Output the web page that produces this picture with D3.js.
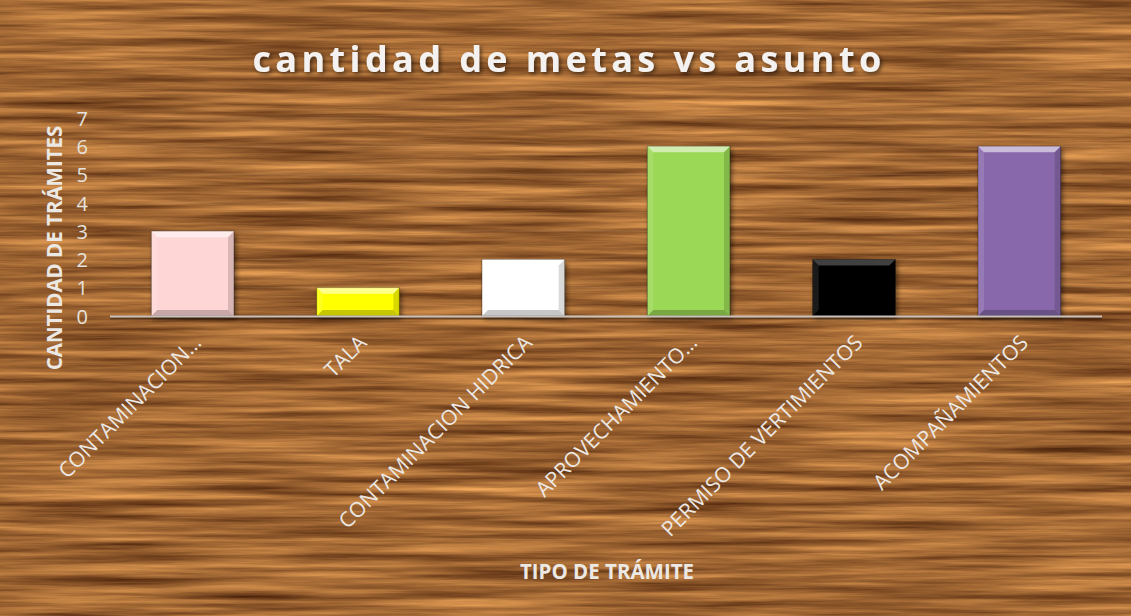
<!DOCTYPE html>
<meta charset="utf-8">
<style>
  body { margin: 0; background: #fff; }
  svg text { font-family: "Open Sans", sans-serif; }
  .tick-label { fill: #e6e2de; font-size: 20px; }
  .cat-label { fill: #ece8e4; font-size: 21px; }
  .axis-title { fill: #ece8e4; font-size: 20.5px; font-weight: bold; }
  .chart-title { fill: #f4f2f0; font-size: 36px; font-weight: bold; }
</style>
<body>
<div id="chart"></div>
<script src="https://d3js.org/d3.v7.min.js"></script>
<script>
  // data
  var categories = ["CONTAMINACION…", "TALA", "CONTAMINACION HIDRICA", "APROVECHAMIENTO…", "PERMISO DE VERTIMIENTOS", "ACOMPAÑAMIENTOS"];
  var values = [3, 1, 2, 6, 2, 6];
  var yTicks = [0, 1, 2, 3, 4, 5, 6, 7];
  var barColors = ["#ffd6d6", "#ffff00", "#ffffff", "#9bd855", "#060606", "#8868ab"];

  var W = 1131, H = 616;
  var plot = { left: 110, right: 1102, top: 118, bottom: 316 };

  var svg = d3.select("#chart").append("svg")
    .attr("width", W)
    .attr("height", H);

  var defs = svg.append("defs");

  // wood grain texture
  var wood = defs.append("filter").attr("id", "wood")
    .attr("filterUnits", "userSpaceOnUse")
    .attr("color-interpolation-filters", "sRGB")
    .attr("x", 0).attr("y", 0).attr("width", W).attr("height", H);
  wood.append("feTurbulence")
    .attr("type", "fractalNoise")
    .attr("baseFrequency", "0.005 0.13")
    .attr("numOctaves", 5)
    .attr("seed", 7)
    .attr("result", "noise");
  wood.append("feColorMatrix")
    .attr("in", "noise")
    .attr("type", "matrix")
    .attr("values", "0.75 0 0 0 0.25  0.6 0 0 0 0.1  0.36 0 0 0 0.02  0 0 0 0 1");

  var shadow = defs.append("filter").attr("id", "shadow")
    .attr("x", "-20%").attr("y", "-20%").attr("width", "140%").attr("height", "140%");
  shadow.append("feDropShadow")
    .attr("dx", 2).attr("dy", 2).attr("stdDeviation", 2)
    .attr("flood-color", "#000").attr("flood-opacity", 0.55);

  var barShadow = defs.append("filter").attr("id", "barShadow")
    .attr("x", "-20%").attr("y", "-20%").attr("width", "140%").attr("height", "140%");
  barShadow.append("feDropShadow")
    .attr("dx", 2).attr("dy", 3).attr("stdDeviation", 2.5)
    .attr("flood-color", "#000").attr("flood-opacity", 0.5);

  svg.append("rect")
    .attr("x", 6).attr("y", 6)
    .attr("width", W - 9).attr("height", H - 9)
    .attr("fill", "#94633a");
  svg.append("rect")
    .attr("x", 6).attr("y", 6)
    .attr("width", W - 9).attr("height", H - 9)
    .attr("filter", "url(#wood)");

  // scales
  var x = d3.scaleBand()
    .domain(categories)
    .range([plot.left, plot.right])
    .paddingInner(0.5)
    .paddingOuter(0.25);

  var y = d3.scaleLinear()
    .domain([0, 7])
    .range([plot.bottom, plot.top]);

  // faint gridlines
  svg.append("g")
    .selectAll("line")
    .data(yTicks.slice(1))
    .enter().append("line")
    .attr("x1", plot.left).attr("x2", plot.right)
    .attr("y1", function(d) { return y(d); })
    .attr("y2", function(d) { return y(d); })
    .attr("stroke", "#ffffff")
    .attr("stroke-opacity", 0.08)
    .attr("stroke-width", 1);

  // y axis labels
  var yAxis = d3.axisLeft(y).tickValues(yTicks).tickFormat(d3.format("d")).tickSize(0).tickPadding(0);
  var yG = svg.append("g")
    .attr("transform", "translate(" + 88 + ",0)")
    .call(yAxis);
  yG.select(".domain").remove();
  yG.attr("font-size", null).attr("font-family", null);
  yG.selectAll("text")
    .attr("class", "tick-label")
    .attr("fill", null)
    .attr("dy", "0.36em");

  // bars with bevel
  var bars = svg.append("g").selectAll("g.bar")
    .data(values)
    .enter().append("g")
    .attr("class", "bar");

  var bev = 6;
  bars.append("rect")
    .attr("x", function(d, i) { return x(categories[i]); })
    .attr("y", function(d) { return y(d); })
    .attr("width", x.bandwidth())
    .attr("height", function(d) { return y(0) - y(d); })
    .attr("fill", function(d, i) { return barColors[i]; })
    .attr("stroke", "rgba(0,0,0,0.35)")
    .attr("stroke-width", 1)
    .attr("filter", "url(#barShadow)");

  function bevelPts(i, d, side) {
    var x0 = x(categories[i]), x1 = x0 + x.bandwidth();
    var y0 = y(d), y1 = y(0);
    var b = Math.min(bev, (y1 - y0) / 2);
    if (side === "top") return [[x0, y0], [x1, y0], [x1 - b, y0 + b], [x0 + b, y0 + b]];
    if (side === "left") return [[x0, y0], [x0 + b, y0 + b], [x0 + b, y1 - b], [x0, y1]];
    if (side === "right") return [[x1, y0], [x1, y1], [x1 - b, y1 - b], [x1 - b, y0 + b]];
    return [[x0, y1], [x0 + b, y1 - b], [x1 - b, y1 - b], [x1, y1]];
  }
  var bevelStyle = {
    top: ["#ffffff", 0.55],
    left: ["#ffffff", 0.12],
    right: ["#000000", 0.15],
    bottom: ["#000000", 0.22]
  };
  ["top", "left", "right", "bottom"].forEach(function(side) {
    bars.append("polygon")
      .attr("points", function(d, i) { return bevelPts(i, d, side).join(" "); })
      .attr("fill", bevelStyle[side][0])
      .attr("fill-opacity", function(d, i) {
        // black bar gets a lighter top edge
        if (i === 4 && side === "top") return 0.25;
        if (i === 4 && side !== "top") return 0.1;
        return bevelStyle[side][1];
      });
  });

  // baseline
  svg.append("line")
    .attr("x1", plot.left).attr("x2", plot.right)
    .attr("y1", y(0) + 1).attr("y2", y(0) + 1)
    .attr("stroke", "#000").attr("stroke-opacity", 0.35).attr("stroke-width", 2)
    .attr("transform", "translate(0,1.5)");
  svg.append("line")
    .attr("x1", plot.left).attr("x2", plot.right)
    .attr("y1", y(0) + 0.5).attr("y2", y(0) + 0.5)
    .attr("stroke", "#c9c2bc").attr("stroke-width", 2);

  // category labels
  svg.append("g").selectAll("text")
    .data(categories)
    .enter().append("text")
    .attr("class", "cat-label")
    .attr("text-anchor", "end")
    .attr("transform", function(d) {
      return "translate(" + (x(d) + x.bandwidth() / 2 + 10) + "," + (y(0) + 28) + ") rotate(-45)";
    })
    .text(function(d) { return d; });

  // titles
  svg.append("text")
    .attr("class", "chart-title")
    .attr("x", 569).attr("y", 72)
    .attr("text-anchor", "middle")
    .attr("letter-spacing", 4.4)
    .attr("filter", "url(#shadow)")
    .text("cantidad de metas vs asunto");

  svg.append("text")
    .attr("class", "axis-title")
    .attr("transform", "translate(62," + 248 + ") rotate(-90)")
    .attr("text-anchor", "middle")
    .text("CANTIDAD DE TRÁMITES");

  svg.append("text")
    .attr("class", "axis-title")
    .attr("x", 607).attr("y", 579)
    .attr("text-anchor", "middle")
    .text("TIPO DE TRÁMITE");
</script>
</body>
